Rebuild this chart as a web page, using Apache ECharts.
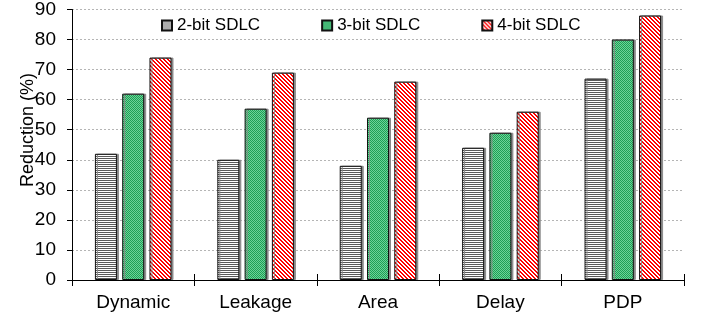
<!DOCTYPE html>
<html>
<head>
<meta charset="utf-8">
<script src="https://cdn.jsdelivr.net/npm/echarts@6/dist/echarts.min.js"></script>
<style>
  html, body { margin: 0; padding: 0; background: #fff; }
  #chart { width: 702px; height: 322px; }
</style>
</head>
<body>
<div id="chart"></div>
<script>
// Reduction percentages per metric for each SDLC width
const categories = ['Dynamic', 'Leakage', 'Area', 'Delay', 'PDP'];
const seriesNames = ['2-bit SDLC', '3-bit SDLC', '4-bit SDLC'];
const twoBit = [42, 40, 38, 44, 67];
const threeBit = [62, 57, 54, 49, 80];
const fourBit = [74, 69, 66, 56, 88];
const yTicks = [0, 10, 20, 30, 40, 50, 60, 70, 80, 90];

// Small tiled fill patterns for the bars
function makePattern(w, h, painter) {
  const c = document.createElement('canvas');
  c.width = w; c.height = h;
  const ctx = c.getContext('2d');
  for (let y = 0; y < h; y++) {
    for (let x = 0; x < w; x++) {
      ctx.fillStyle = painter(x, y);
      ctx.fillRect(x, y, 1, 1);
    }
  }
  return { image: c, repeat: 'repeat' };
}
const stripes = makePattern(2, 2, (x, y) => (y % 2 === 0 ? '#5a5a5a' : '#ffffff'));
const checker = makePattern(2, 2, (x, y) => ((x + y) % 2 === 0 ? '#1e9e55' : '#6cd398'));
const hatch = makePattern(4, 4, (x, y) => (((x - y) % 4 + 4) % 4 < 2 ? '#ff0000' : '#ffffff'));

const fonts = '"Liberation Sans", Arial, sans-serif';
const chart = echarts.init(document.getElementById('chart'));

function barSeries(name, data, fill) {
  return {
    name: name,
    type: 'bar',
    data: data,
    barWidth: 22,
    barGap: '24%',
    xAxisIndex: 0,
    itemStyle: {
      color: fill,
      borderColor: '#111',
      borderWidth: 1,
      shadowColor: '#8a8a8a',
      shadowOffsetX: 2,
      shadowOffsetY: 0,
      shadowBlur: 0
    }
  };
}

chart.setOption({
  animation: false,
  backgroundColor: '#fff',
  textStyle: { fontFamily: fonts },
  grid: { left: 72, right: 18, top: 9, bottom: 42 },
  legend: {
    top: 17,
    left: 161,
    padding: 0,
    itemWidth: 10,
    itemHeight: 10,
    itemGap: 61,
    icon: 'rect',
    textStyle: { fontSize: 17, color: '#000', fontFamily: fonts },
    data: seriesNames
  },
  xAxis: [
    {
      type: 'category',
      data: categories,
      axisLine: { lineStyle: { color: '#000', width: 1 } },
      axisTick: { show: true, length: 6, lineStyle: { color: '#000' } },
      axisLabel: { fontSize: 19, color: '#000', margin: 13, fontFamily: fonts },
      splitLine: { show: false }
    },
    {
      // inner half of the crossing category ticks
      type: 'category',
      data: categories,
      position: 'bottom',
      axisLine: { show: false },
      axisTick: { show: true, inside: true, length: 6, lineStyle: { color: '#000' } },
      axisLabel: { show: false },
      splitLine: { show: false }
    }
  ],
  yAxis: {
    type: 'value',
    min: yTicks[0],
    max: yTicks[yTicks.length - 1],
    interval: 10,
    axisLine: { show: true, lineStyle: { color: '#000', width: 1 } },
    axisTick: { show: true, length: 5, lineStyle: { color: '#000' } },
    axisLabel: { fontSize: 19, color: '#000', margin: 16, fontFamily: fonts },
    splitLine: { show: true, lineStyle: { color: '#b5b5b5', type: [2, 2], width: 1 } }
  },
  graphic: [{
    type: 'text',
    left: 19,
    top: 73,
    rotation: Math.PI / 2,
    style: { text: 'Reduction (%)', fontSize: 18, fill: '#000', fontFamily: fonts }
  }],
  series: [
    barSeries(seriesNames[0], twoBit, stripes),
    barSeries(seriesNames[1], threeBit, checker),
    barSeries(seriesNames[2], fourBit, hatch)
  ]
});
</script>
</body>
</html>
